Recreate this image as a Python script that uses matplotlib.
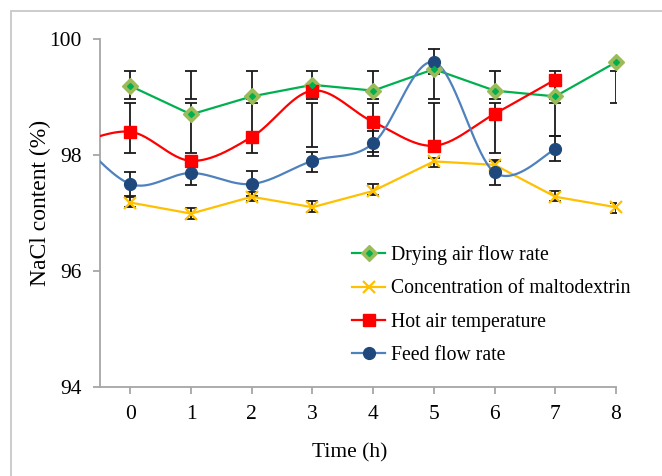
import numpy as np
import matplotlib
matplotlib.use("Agg")
import matplotlib.pyplot as plt
from matplotlib.lines import Line2D
from matplotlib.patches import Rectangle

plt.rcParams['font.family'] = ['Liberation Serif', 'DejaVu Serif']

# data
hours = [0, 1, 2, 3, 4, 5, 6, 7, 8]
drying = [99.19, 98.70, 99.01, 99.21, 99.11, 99.48, 99.11, 99.01, 99.60]
maltodextrin = [97.18, 96.99, 97.28, 97.10, 97.38, 97.89, 97.83, 97.28, 97.10]

# smoothed series start with a point left of the visible axis
curve_hours = [-1, 0, 1, 2, 3, 4, 5, 6, 7]
hot_air = [98.15, 98.40, 97.90, 98.31, 99.11, 98.57, 98.16, 98.71, 99.30]
feed = [98.43, 97.50, 97.69, 97.50, 97.90, 98.20, 99.60, 97.70, 98.10]

# error bars as (top, bottom) values
drying_top = [99.44] * 9
drying_bot = [98.96] * 8 + [98.89]
hot_top = [98.89] * 8
hot_bot = [98.04, 98.04, 98.04, 98.13, 98.06, 98.06, 98.04, 98.32]
feed_top = [97.71, 97.90, 97.72, 98.06, 98.42, 99.82, 97.91, 98.32]
feed_bot = [97.29, 97.48, 97.29, 97.70, 97.99, 99.40, 97.48, 97.89]
malto_top = [97.28, 97.09, 97.37, 97.20, 97.50, 97.94, 97.90, 97.38, 97.18]
malto_bot = [97.10, 96.90, 97.20, 97.02, 97.31, 97.80, 97.76, 97.21, 97.00]

labels = ['Drying air flow rate', 'Concentration of maltodextrin',
          'Hot air temperature', 'Feed flow rate']


def excel_smooth(xs, ys, n=40):
    # bezier smoothing similar to Excel's "smoothed line"
    p = np.column_stack([xs, ys]).astype(float)
    out = []
    for i in range(len(p) - 1):
        p0 = p[i - 1] if i > 0 else p[i]
        p1 = p[i]
        p2 = p[i + 1]
        p3 = p[i + 2] if i + 2 < len(p) else p[i + 1]
        c1 = p1 + (p2 - p0) / 6
        c2 = p2 - (p3 - p1) / 6
        t = np.linspace(0, 1, n)[:, None]
        seg = ((1 - t) ** 3) * p1 + 3 * ((1 - t) ** 2) * t * c1 \
            + 3 * (1 - t) * t ** 2 * c2 + t ** 3 * p2
        out.append(seg)
    out = np.vstack(out)
    return out[:, 0], out[:, 1]


fig = plt.figure(figsize=(6.62, 4.76), dpi=100)
ax = fig.add_axes([100 / 662, 1 - 387 / 476, 516 / 662, 348 / 476])

# outer frame
fig.patches.append(Rectangle((11 / 662, -0.2), 1.2, 1 - 11 / 476 + 0.2,
                             transform=fig.transFigure, fill=False,
                             edgecolor='#C8C8C8', linewidth=1.3))


def draw_err(x, top, bot):
    top = np.array(top)
    bot = np.array(bot)
    ax.errorbar(x[:len(top)], (top + bot) / 2, yerr=(top - bot) / 2, fmt='none',
                ecolor='#1a1a1a', elinewidth=1.3, capsize=4, capthick=1.3, zorder=2)


draw_err(np.array(hours), drying_top, drying_bot)
draw_err(np.array(hours), hot_top, hot_bot)
draw_err(np.array(hours), feed_top, feed_bot)
draw_err(np.array(hours), malto_top, malto_bot)

# green and yellow: straight lines
ax.plot(hours, drying, color='#00B050', linewidth=1.6, zorder=3)
ax.plot(hours, drying, linestyle='none', marker='D', markersize=8,
        color='#9BBB59', zorder=5, clip_on=False)
ax.plot(hours, drying, linestyle='none', marker='D', markersize=3,
        color='#00B050', zorder=6, clip_on=False)

ax.plot(hours, maltodextrin, color='#FFC000', linewidth=1.6, zorder=3)
ax.plot(hours, maltodextrin, linestyle='none', marker='x', markersize=8,
        markeredgewidth=1.6, color='#FFC000', zorder=5, clip_on=False)

# red and blue: smoothed lines
sx, sy = excel_smooth(curve_hours, hot_air)
ax.plot(sx, sy, color='#FF0000', linewidth=1.6, zorder=3)
ax.plot(curve_hours, hot_air, linestyle='none', marker='s', markersize=8,
        color='#FF0000', zorder=5)

sx, sy = excel_smooth(curve_hours, feed)
ax.plot(sx, sy, color='#4F81BD', linewidth=1.6, zorder=3)
ax.plot(curve_hours, feed, linestyle='none', marker='o', markersize=8.5,
        color='#1F497D', zorder=5)

ax.set_xlim(-0.5, 8)
ax.set_ylim(94, 100)
ax.set_xticks(hours)
ax.set_yticks([94, 96, 98, 100])

for side in ['top', 'right']:
    ax.spines[side].set_visible(False)
for side in ['left', 'bottom']:
    ax.spines[side].set_color('#A6A6A6')
    ax.spines[side].set_linewidth(1.3)
ax.tick_params(direction='out', length=5, width=1.3, color='#A6A6A6',
               labelsize=15.5, pad=8)

ax.set_xlabel('Time (h)', fontsize=15.5)
ax.set_ylabel('NaCl content (%)', fontsize=17)
ax.xaxis.set_label_coords((350 - 100) / 516, -(443 - 387) / 348)
ax.yaxis.set_label_coords((51 - 100) / 516, 1 - (203 - 39) / 348)

handles = [
    (Line2D([], [], color='#00B050', linewidth=1.6, marker='D', markersize=8,
            markerfacecolor='#9BBB59', markeredgecolor='#9BBB59'),
     Line2D([], [], linestyle='none', marker='D', markersize=3, color='#00B050')),
    Line2D([], [], color='#FFC000', linewidth=1.6, marker='x', markersize=8,
           markeredgewidth=1.6),
    Line2D([], [], color='#FF0000', linewidth=1.6, marker='s', markersize=8),
    Line2D([], [], color='#4F81BD', linewidth=1.6, marker='o', markersize=8.5,
           markerfacecolor='#1F497D', markeredgecolor='#1F497D'),
]
ax.legend(handles, labels, loc='upper left', bbox_to_anchor=(342 / 662, 1 - 235.5 / 476),
          bbox_transform=fig.transFigure, frameon=False, fontsize=14.2,
          handlelength=1.7, handletextpad=0.3, labelspacing=0.72, borderpad=0)

fig.savefig('out.png', dpi=100)
